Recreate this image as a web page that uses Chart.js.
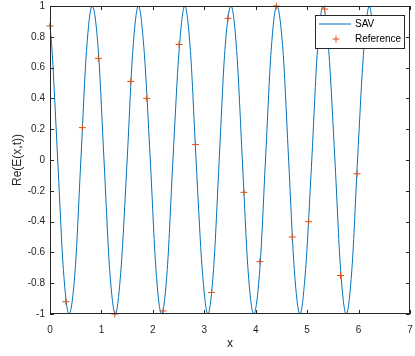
<!DOCTYPE html>
<html>
<head>
<meta charset="utf-8">
<script src="https://cdn.jsdelivr.net/npm/chart.js@4.4.0/dist/chart.umd.min.js"></script>
<style>
    html, body { margin: 0; padding: 0; background: #fff; }
</style>
</head>
<body>
<canvas id="canvas" width="415" height="356"></canvas>
<script>
// SAV curve at its peaks, troughs, zero crossings and half-way points
var savX = [0, 0.04, 0.15, 0.26, 0.37, 0.49, 0.60, 0.71, 0.82, 0.94, 1.05, 1.16, 1.27, 1.38, 1.50,
    1.61, 1.72, 1.83, 1.95, 2.06, 2.17, 2.28, 2.39, 2.51, 2.62, 2.73, 2.84, 2.96, 3.07, 3.18, 3.29,
    3.40, 3.52, 3.63, 3.74, 3.85, 3.96, 4.08, 4.19, 4.30, 4.41, 4.53, 4.64, 4.75, 4.86, 4.97, 5.09,
    5.20, 5.31, 5.42, 5.54, 5.65, 5.76, 5.87, 5.98, 6.10, 6.21, 6.28];
var savY = [0.87,
    0.71, 0, -0.71, -1, -0.71, 0, 0.71, 1,
    0.71, 0, -0.71, -1, -0.71, 0, 0.71, 1,
    0.71, 0, -0.71, -1, -0.71, 0, 0.71, 1,
    0.71, 0, -0.71, -1, -0.71, 0, 0.71, 1,
    0.71, 0, -0.71, -1, -0.71, 0, 0.71, 1,
    0.71, 0, -0.71, -1, -0.71, 0, 0.71, 1,
    0.71, 0, -0.71, -1, -0.71, 0, 0.71, 1,
    0.87];

// Reference markers
var refX = [0, 0.31, 0.63, 0.94, 1.26, 1.57, 1.88, 2.20, 2.51, 2.83, 3.14, 3.46, 3.77, 4.08, 4.40,
    4.71, 5.03, 5.34, 5.65, 5.97];
var refY = [0.87, -0.92, 0.21, 0.66, -1.0, 0.51, 0.40, -0.98, 0.75, 0.10, -0.86, 0.92, -0.21, -0.66,
    1.0, -0.50, -0.40, 0.98, -0.75, -0.09];

var xTicks = [0, 1, 2, 3, 4, 5, 6, 7];
var yTicks = [-1, -0.8, -0.6, -0.4, -0.2, 0, 0.2, 0.4, 0.6, 0.8, 1];
var seriesNames = ["SAV", "Reference"];

var blue = "#0072BD";
var orange = "#D95319";
var axisColor = "#262626";

var toPoints = function (xs, ys) {
    var pts = [];
    for (var i = 0; i < xs.length; i++) {
        pts.push({x: xs[i], y: ys[i]});
    }
    return pts;
};

// box, inward ticks and legend like matlab
var matlabAxes = {
    id: "matlabAxes",
    afterDraw: function (chart) {
        var ctx = chart.ctx;
        var a = chart.chartArea;
        var xs = chart.scales.x, ys = chart.scales.y;
        ctx.save();
        ctx.strokeStyle = axisColor;
        ctx.lineWidth = 1;
        ctx.beginPath();
        ctx.rect(a.left + 0.5, a.top + 0.5, a.right - a.left - 1, a.bottom - a.top - 1);
        for (var i = 0; i < xTicks.length; i++) {
            var px = Math.round(xs.getPixelForValue(xTicks[i])) + 0.5;
            ctx.moveTo(px, a.bottom); ctx.lineTo(px, a.bottom - 4);
            ctx.moveTo(px, a.top); ctx.lineTo(px, a.top + 4);
        }
        for (var j = 0; j < yTicks.length; j++) {
            var py = Math.round(ys.getPixelForValue(yTicks[j])) + 0.5;
            ctx.moveTo(a.left, py); ctx.lineTo(a.left + 4, py);
            ctx.moveTo(a.right, py); ctx.lineTo(a.right - 4, py);
        }
        ctx.stroke();

        // legend
        var lx = 315, ly = 15, lw = 89, lh = 33;
        ctx.fillStyle = "#fff";
        ctx.fillRect(lx, ly, lw, lh);
        ctx.strokeStyle = axisColor;
        ctx.strokeRect(lx + 0.5, ly + 0.5, lw, lh);
        ctx.strokeStyle = blue;
        ctx.beginPath();
        ctx.moveTo(319, 24); ctx.lineTo(351, 24);
        ctx.stroke();
        ctx.strokeStyle = orange;
        ctx.beginPath();
        ctx.moveTo(332.5, 39); ctx.lineTo(339.5, 39);
        ctx.moveTo(336, 35.5); ctx.lineTo(336, 42.5);
        ctx.stroke();
        ctx.fillStyle = "#000";
        ctx.font = "10px 'Liberation Sans', Arial, sans-serif";
        ctx.textBaseline = "middle";
        ctx.textAlign = "left";
        ctx.fillText(seriesNames[0], 355, 24);
        ctx.fillText(seriesNames[1], 355, 39);
        ctx.restore();
    }
};

var config = {
    type: "scatter",
    data: {
        datasets: [{
            label: seriesNames[0],
            data: toPoints(savX, savY),
            showLine: true,
            borderColor: blue,
            borderWidth: 1,
            pointRadius: 0,
            cubicInterpolationMode: "monotone",
            order: 1
        }, {
            label: seriesNames[1],
            data: toPoints(refX, refY),
            showLine: false,
            borderColor: orange,
            backgroundColor: orange,
            borderWidth: 1,
            pointStyle: "cross",
            pointRadius: 3.5,
            clip: false,
            order: 0
        }]
    },
    options: {
        responsive: false,
        animation: false,
        layout: {padding: {left: 0, right: 1, top: 6, bottom: 0}},
        plugins: {legend: {display: false}, tooltip: {enabled: false}},
        scales: {
            x: {
                type: "linear",
                min: 0, max: 7,
                afterBuildTicks: function (s) { s.ticks = xTicks.map(function (v) { return {value: v}; }); },
                afterFit: function (s) { s.height = 42; s.paddingLeft = 0; s.paddingRight = 0; },
                grid: {display: false, drawTicks: false},
                border: {display: false},
                ticks: {color: axisColor, font: {size: 10, family: "'Liberation Sans', Arial"}, padding: 10, maxRotation: 0},
                title: {display: true, text: "x", color: axisColor, font: {size: 12, family: "'Liberation Sans', Arial"}, padding: {top: 0, bottom: 5}}
            },
            y: {
                min: -1, max: 1,
                afterBuildTicks: function (s) { s.ticks = yTicks.map(function (v) { return {value: v}; }); },
                afterFit: function (s) { s.width = 50; s.paddingTop = 0; s.paddingBottom = 0; },
                grid: {display: false, drawTicks: false},
                border: {display: false},
                ticks: {
                    color: axisColor, font: {size: 10, family: "'Liberation Sans', Arial"}, padding: 5,
                    callback: function (v) { return String(Math.round(v * 10) / 10); }
                },
                title: {display: true, text: "Re(E(x,t))", color: axisColor, font: {size: 12, family: "'Liberation Sans', Arial"}, padding: {top: 10, bottom: 0}}
            }
        }
    },
    plugins: [matlabAxes]
};

var ctx = document.getElementById("canvas").getContext("2d");
new Chart(ctx, config);
</script>
</body>
</html>
